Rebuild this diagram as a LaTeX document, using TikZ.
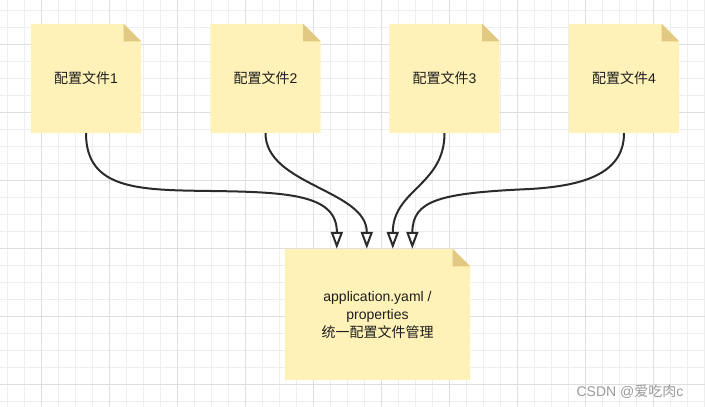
\documentclass[tikz,border=0pt]{standalone}
\usepackage{fontspec}
\setmainfont{Liberation Sans}
\newfontfamily\cjk{Noto Sans CJK SC}
\usetikzlibrary{arrows.meta,backgrounds,calc}
\definecolor{notefill}{HTML}{FEF2B8}
\definecolor{notefold}{HTML}{E2C981}
\definecolor{gridminor}{HTML}{EEEEEE}
\definecolor{gridmajor}{HTML}{DEDEDE}
\definecolor{inkc}{HTML}{1E1E1E}
\definecolor{linec}{HTML}{2B2B2B}
\definecolor{wmark}{HTML}{9A9A9A}
\newcommand\notepaint[1]{%
  \fill[notefill] (#1.south west) -- (#1.north west) -- ($(#1.north east)+(-17.5,0)$) -- ($(#1.north east)+(0,17.5)$) -- (#1.south east) -- cycle;
  \fill[notefold] ($(#1.north east)+(-17.5,0)$) -- ($(#1.north east)+(-17.5,17.5)$) -- ($(#1.north east)+(0,17.5)$) -- cycle;
}
\begin{document}
\begin{tikzpicture}[x=1pt,y=-1pt,
  notebox/.style={minimum width=110pt,minimum height=109pt,inner sep=0pt,text=inkc,font=\fontsize{14}{18}\selectfont,align=center},
  bignote/.style={notebox,minimum width=185pt,minimum height=131pt},
  conn/.style={draw=linec,line width=2pt,-{Triangle[open,length=17pt,width=12pt]}},
  minorline/.style={draw=gridminor,line width=0.9pt},
  majorline/.style={draw=gridmajor,line width=0.9pt},
  wm/.style={text=wmark,font=\fontsize{14}{16}\selectfont,inner sep=0pt}
]
\useasboundingbox (0,0) rectangle (705,407);
\begin{scope}[on background layer]
  \fill[white] (0,0) rectangle (705,407);
  \foreach \i in {0,...,41} \draw[minorline] ({7.5+17*\i},0) -- ({7.5+17*\i},407);
  \foreach \j in {0,...,23} \draw[minorline] (0,{10+17*\j}) -- (705,{10+17*\j});
  \foreach \i in {0,...,9} \draw[majorline] ({41.5+68*\i},0) -- ({41.5+68*\i},407);
  \foreach \j in {0,...,5} \draw[majorline] (0,{44+68*\j}) -- (705,{44+68*\j});
\end{scope}

\node[notebox] (n1) at (86,78.5) {{\cjk 配置文件}1};
\node[notebox] (n2) at (265.5,78.5) {{\cjk 配置文件}2};
\node[notebox] (n3) at (444.5,78.5) {{\cjk 配置文件}3};
\node[notebox] (n4) at (624,78.5) {{\cjk 配置文件}4};
\node[bignote] (b) at (377.5,314.5) {application.yaml /\\properties\\{\cjk 统一配置文件管理}};

\begin{scope}[on background layer]
  \notepaint{n1}
  \notepaint{n2}
  \notepaint{n3}
  \notepaint{n4}
  \notepaint{b}
\end{scope}

\draw[conn] (n1.south) .. controls +(0,57) and (140,190) .. (211,191) .. controls (290,192) and (337,195) .. ($(b.north west)+(52,0)$);
\draw[conn] (n2.south) .. controls +(0,52) and ($(b.north west)+(82,-59)$) .. ($(b.north west)+(82,0)$);
\draw[conn] (n3.south) .. controls +(0,52) and ($(b.north west)+(108,-59)$) .. ($(b.north west)+(108,0)$);
\draw[conn] (n4.south) .. controls +(0,42) and (580,186) .. (530,189) .. controls (440,193) and (412.5,200) .. ($(b.north west)+(127.5,0)$);

\node[wm] (w) at (630,392) {CSDN @{\cjk 爱吃肉}c};
\end{tikzpicture}
\end{document}
